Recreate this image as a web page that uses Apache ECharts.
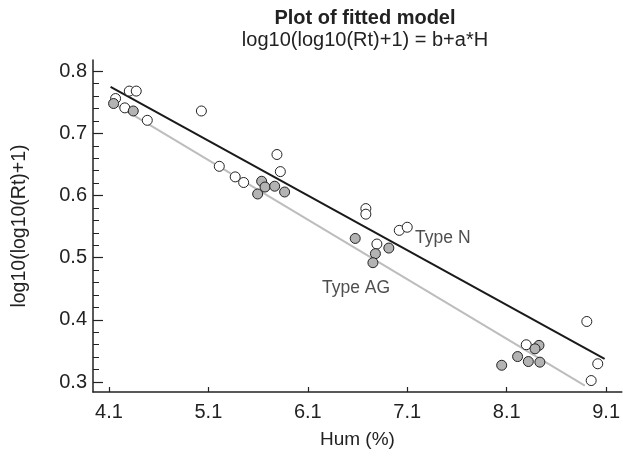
<!DOCTYPE html>
<html>
<head>
<meta charset="utf-8">
<script src="https://cdn.jsdelivr.net/npm/echarts@6/dist/echarts.min.js"></script>
<style>
html,body{margin:0;padding:0;background:#fff;}
#chart{width:623px;height:456px;}
</style>
</head>
<body>
<div id="chart"></div>
<script>
// Data
const typeNHum = [4.167, 4.305, 4.375, 4.26, 4.486, 5.03, 5.21, 5.37, 5.455, 5.79, 5.824, 6.684, 6.684, 7.02, 7.10, 6.795, 8.297, 8.906, 9.016, 8.95];
const typeNVal = [0.756, 0.768, 0.768, 0.741, 0.721, 0.736, 0.647, 0.630, 0.621, 0.666, 0.6385, 0.579, 0.570, 0.544, 0.549, 0.522, 0.360, 0.3974, 0.3294, 0.3024];
const typeAGHum = [4.147, 4.345, 5.596, 5.636, 5.67, 5.767, 5.867, 6.577, 6.915, 6.78, 6.755, 8.425, 8.385, 8.21, 8.318, 8.434, 8.05];
const typeAGVal = [0.748, 0.736, 0.6025, 0.623, 0.6137, 0.615, 0.6057, 0.531, 0.5155, 0.5065, 0.492, 0.359, 0.3535, 0.341, 0.333, 0.332, 0.327];
const fitNHum = [4.117, 9.085];
const fitNVal = [0.7747, 0.3374];
const fitAGHum = [4.14, 8.886];
const fitAGVal = [0.749, 0.2944];
const labelText = ['Type N', 'Type AG'];
const labelHum = [7.179, 6.243];
const labelVal = [0.531, 0.4506];
const xTicks = [4.1, 5.1, 6.1, 7.1, 8.1, 9.1];
const yTicks = [0.3, 0.4, 0.5, 0.6, 0.7, 0.8];
const yMinorTicks = [0.30,0.32,0.34,0.36,0.38,0.40,0.42,0.44,0.46,0.48,0.50,0.52,0.54,0.56,0.58,0.60,0.62,0.64,0.66,0.68,0.70,0.72,0.74,0.76,0.78,0.80];

const zip = (a, b) => a.map((v, i) => [v, b[i]]);
const FONT = 'Liberation Sans';
const AX = '#222';

const chart = echarts.init(document.getElementById('chart'), null, {renderer: 'canvas'});
chart.setOption({
  backgroundColor: '#fff',
  animation: false,
  textStyle: {fontFamily: FONT},
  title: {
    text: 'Plot of fitted model',
    subtext: 'log10(log10(Rt)+1) = b+a*H',
    left: 360, top: 3, textAlign: 'center', itemGap: 2,
    textStyle: {fontFamily: FONT, fontSize: 20, fontWeight: 'bold', color: '#222'},
    subtextStyle: {fontFamily: FONT, fontSize: 20, color: '#222'}
  },
  grid: {left: 93, right: 0, top: 60, bottom: 64},
  xAxis: {
    type: 'value', min: 3.94, max: 9.258,
    name: 'Hum (%)', nameLocation: 'middle', nameGap: 38,
    nameTextStyle: {fontFamily: FONT, fontSize: 19, color: '#222'},
    axisLine: {lineStyle: {color: AX, width: 1.5}},
    axisTick: {inside: true, length: 5, customValues: xTicks, lineStyle: {color: AX, width: 1.2}},
    axisLabel: {customValues: xTicks, margin: 10, fontSize: 20, color: '#222', fontFamily: FONT, formatter: v => v.toFixed(1)},
    splitLine: {show: false}
  },
  yAxis: [{
    type: 'value', min: 0.284, max: 0.818,
    name: 'log10(log10(Rt)+1)', nameLocation: 'middle', nameGap: 63, nameRotate: 90,
    nameTextStyle: {fontFamily: FONT, fontSize: 19.5, color: '#222'},
    axisLine: {show: true, lineStyle: {color: AX, width: 1.5}},
    axisTick: {show: true, inside: true, length: 10, customValues: yTicks, lineStyle: {color: AX, width: 1.2}},
    axisLabel: {customValues: yTicks, margin: 6, fontSize: 20, color: '#222', fontFamily: FONT, formatter: v => v.toFixed(1)},
    splitLine: {show: false}
  }, {
    type: 'value', min: 0.284, max: 0.818, position: 'left', offset: 0,
    axisLine: {show: false},
    axisTick: {show: true, inside: true, length: 6, customValues: yMinorTicks, lineStyle: {color: AX, width: 1}},
    axisLabel: {show: false},
    splitLine: {show: false}
  }],
  series: [
    {type: 'line', data: zip(fitAGHum, fitAGVal), symbol: 'none', z: 1,
     lineStyle: {color: '#bdbdbd', width: 2}},
    {type: 'line', data: zip(fitNHum, fitNVal), symbol: 'none', z: 1,
     lineStyle: {color: '#1a1a1a', width: 2}},
    {type: 'scatter', name: 'Type N', data: zip(typeNHum, typeNVal), symbol: 'circle', symbolSize: 10, z: 3,
     itemStyle: {color: '#fff', borderColor: '#222', borderWidth: 1, opacity: 1}},
    {type: 'scatter', name: 'Type AG', data: zip(typeAGHum, typeAGVal), symbol: 'circle', symbolSize: 10, z: 3,
     itemStyle: {color: '#b3b3b3', borderColor: '#222', borderWidth: 1, opacity: 1}},
    {type: 'scatter', data: labelText.map((t, i) => ({name: t, value: [labelHum[i], labelVal[i]]})),
     symbolSize: 0, silent: true, z: 4,
     label: {show: true, position: 'right', distance: 0, formatter: p => p.name,
             fontFamily: FONT, fontSize: 17.5, color: '#222'}}
  ]
});
</script>
</body>
</html>
